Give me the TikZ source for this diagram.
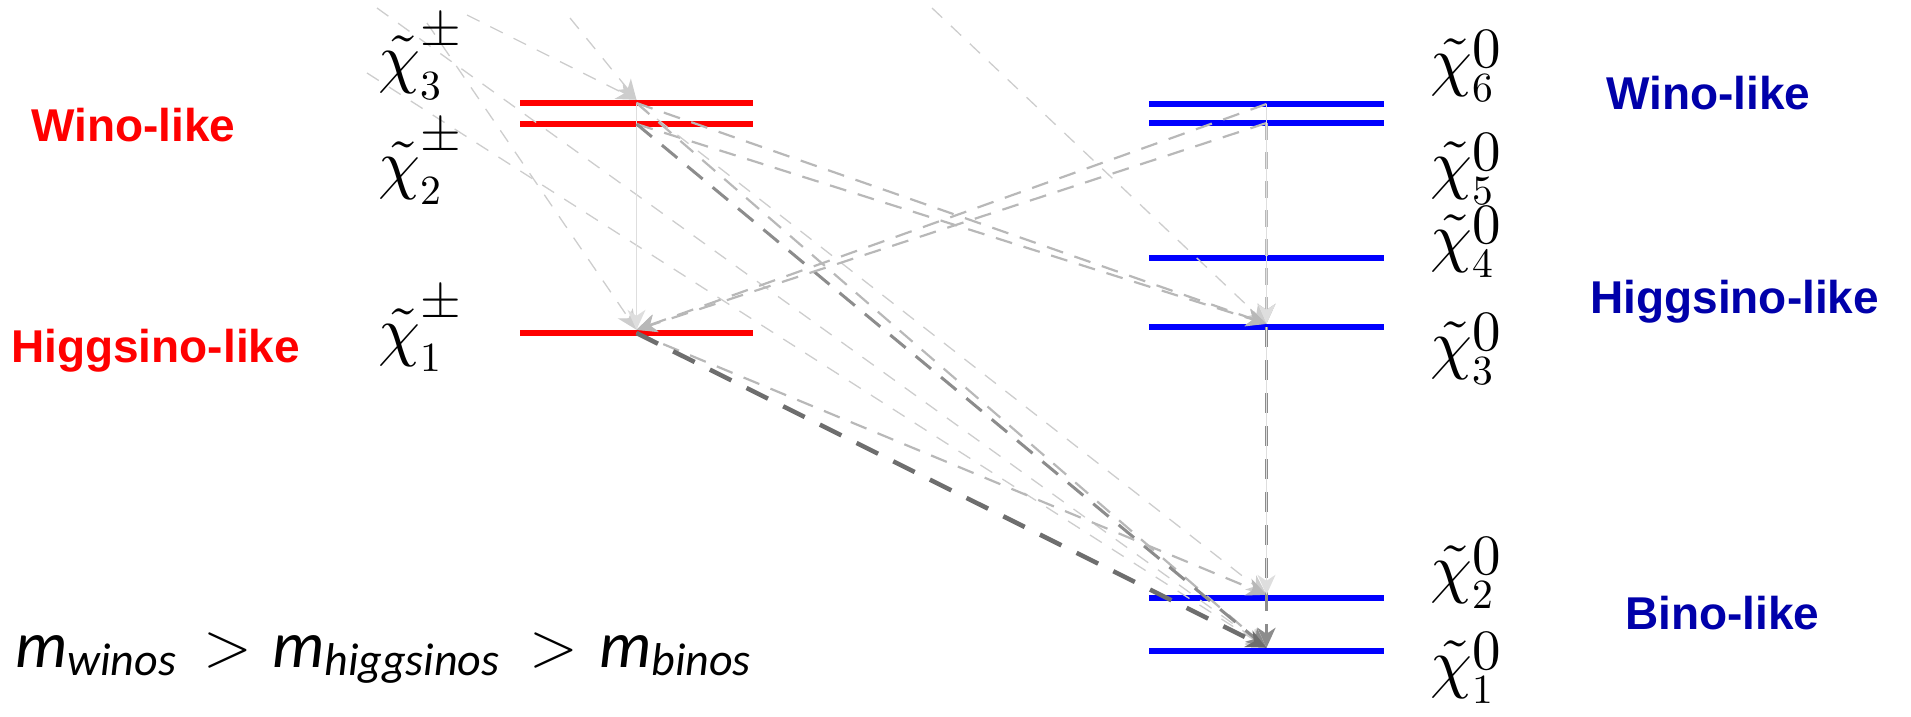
\RequirePackage{fix-cm}
\documentclass[tikz,border=0pt]{standalone}
\usepackage{graphicx}
\usepackage{fontspec}
\usetikzlibrary{arrows.meta}
\newfontfamily\lblfont{Liberation Sans}
\newfontfamily\calfont{Carlito}
\definecolor{lblblue}{RGB}{0,0,170}
\definecolor{gA}{RGB}{110,110,110}
\definecolor{gB}{RGB}{140,140,140}
\definecolor{gC}{RGB}{184,184,184}
\definecolor{gD}{RGB}{205,205,205}
\definecolor{gE}{RGB}{222,222,222}
\newcommand\fsub[1]{\raisebox{-8pt}{\fontsize{46}{50}\selectfont #1}}
% #1 superscript, #2 subscript, #3 raise of superscript, #4 scale of superscript
\newcommand\chilab[4]{\scalebox{6.7}{\fontsize{10}{12}\selectfont
  $\tilde{\chi}$\rlap{\raisebox{-2.8pt}{\scalebox{0.62}{$#2$}}}\raisebox{#3}{\scalebox{#4}{$#1$}}}}
\begin{document}
\begin{tikzpicture}[x=1pt,y=-1pt,
  rlev/.style={fill=red,inner sep=0,minimum width=233pt,minimum height=6pt,rectangle},
  blev/.style={fill=blue,inner sep=0,minimum width=235pt,minimum height=6pt,rectangle},
  chil/.style={inner sep=0,anchor=base west},
  redtxt/.style={inner sep=0,anchor=base west,text=red,font=\lblfont\bfseries\fontsize{46}{50}\selectfont},
  bluetxt/.style={inner sep=0,anchor=base west,text=lblblue,font=\lblfont\bfseries\fontsize{46}{50}\selectfont},
  formula/.style={inner sep=0,anchor=base west,font=\calfont\itshape\fontsize{66}{70}\selectfont},
  gtsym/.style={inner sep=0,anchor=base west,font=\fontsize{64}{70}\selectfont},
  tip/.style={-{Stealth[length=20pt,width=18pt,inset=6pt]}},
  darkdash/.style={tip,draw=gA,line width=4.5pt,dash pattern=on 24pt off 17pt},
  middash/.style={tip,draw=gB,line width=3pt,dash pattern=on 20pt off 13pt},
  lightdash/.style={tip,draw=gC,line width=2.2pt,dash pattern=on 17pt off 12pt},
  faintdash/.style={tip,draw=gD,line width=1.3pt,dash pattern=on 14pt off 12pt},
  faintsolid/.style={tip,draw=gE,line width=1.5pt}
]
\useasboundingbox (0,0) rectangle (1911,717);
\clip (0,0) rectangle (1911,717);

% levels
\node[rlev] (C3) at (636.5,103) {};
\node[rlev] (C2) at (636.5,124) {};
\node[rlev] (C1) at (636.5,333) {};
\node[blev] (N6) at (1266.5,104) {};
\node[blev] (N5) at (1266.5,123) {};
\node[blev] (N4) at (1266.5,258) {};
\node[blev] (N3) at (1266.5,327) {};
\node[blev] (N2) at (1266.5,598) {};
\node[blev] (N1) at (1266.5,651) {};

% starts of the faint lines
\coordinate (t1) at (467,15);
\coordinate (t2) at (570,18);
\coordinate (t3) at (427,23);
\coordinate (t4) at (377,8);
\coordinate (t6) at (367,73);
\coordinate (t7) at (932,8);

% faint lines
\draw[faintdash] (t1) -- (C3.north);
\draw[faintdash] (t2) -- (C3.north);
\draw[faintdash] (t3) -- (C1.north);
\draw[faintdash] (t4) -- (N1.north);
\draw[faintdash] (t6) -- (N1.north);
\draw[faintdash] (t7) -- (N3.north);

% chargino decays
\draw[faintsolid] (C3.center) -- (C1.north);
\draw[lightdash] (C3.center) -- (N3.north);
\draw[lightdash] (C2.center) -- (N3.north);
\draw[faintdash] (C3.center) -- (N2.north);
\draw[lightdash] (C3.center) -- (N1.north);
\draw[middash] (C2.center) -- (N1.north);
\draw[lightdash] (C1.center) -- (N2.north);
\draw[darkdash] (C1.center) -- (N1.north);

% neutralino decays
\draw[lightdash] (N6.center) -- (C1.north);
\draw[lightdash] (N5.center) -- (C1.north);
\draw[lightdash] (N5.center) -- (N3.north);
\draw[faintsolid] (N6.center) -- (N3.north);
\draw[middash] (N3.center) -- (N1.north);
\draw[faintsolid] (N3.center) -- (N2.north);

% state labels
\node[chil] (lc3) at (378,81) {\chilab{\pm}{3}{5.3pt}{0.78}};
\node[chil] (lc2) at (378,186) {\chilab{\pm}{2}{5.3pt}{0.78}};
\node[chil] (lc1) at (378,353) {\chilab{\pm}{1}{5.3pt}{0.78}};
\node[chil] (ln6) at (1430,83) {\chilab{0}{6}{2.3pt}{0.85}};
\node[chil] (ln5) at (1430,186) {\chilab{0}{5}{2.3pt}{0.85}};
\node[chil] (ln4) at (1430,259) {\chilab{0}{4}{2.3pt}{0.85}};
\node[chil] (ln3) at (1430,366) {\chilab{0}{3}{2.3pt}{0.85}};
\node[chil] (ln2) at (1430,590) {\chilab{0}{2}{2.3pt}{0.85}};
\node[chil] (ln1) at (1430,685) {\chilab{0}{1}{2.3pt}{0.85}};

% group labels
\node[redtxt] (wl) at (31,141) {Wino-like};
\node[redtxt] (hl) at (11,362) {Higgsino-like};
\node[bluetxt] (wr) at (1606,110) {Wino-like};
\node[bluetxt] (hr) at (1590,313) {Higgsino-like};
\node[bluetxt] (br) at (1625,629) {Bino-like};

% mass ordering
\node[formula] (fw) at (15,667) {m\fsub{winos}};
\node[gtsym] (g1) at (203,666) {$>$};
\node[formula] (fh) at (272,667) {m\fsub{higgsinos}};
\node[gtsym] (g2) at (529,666) {$>$};
\node[formula] (fb) at (599,667) {m\fsub{binos}};
\end{tikzpicture}
\end{document}
